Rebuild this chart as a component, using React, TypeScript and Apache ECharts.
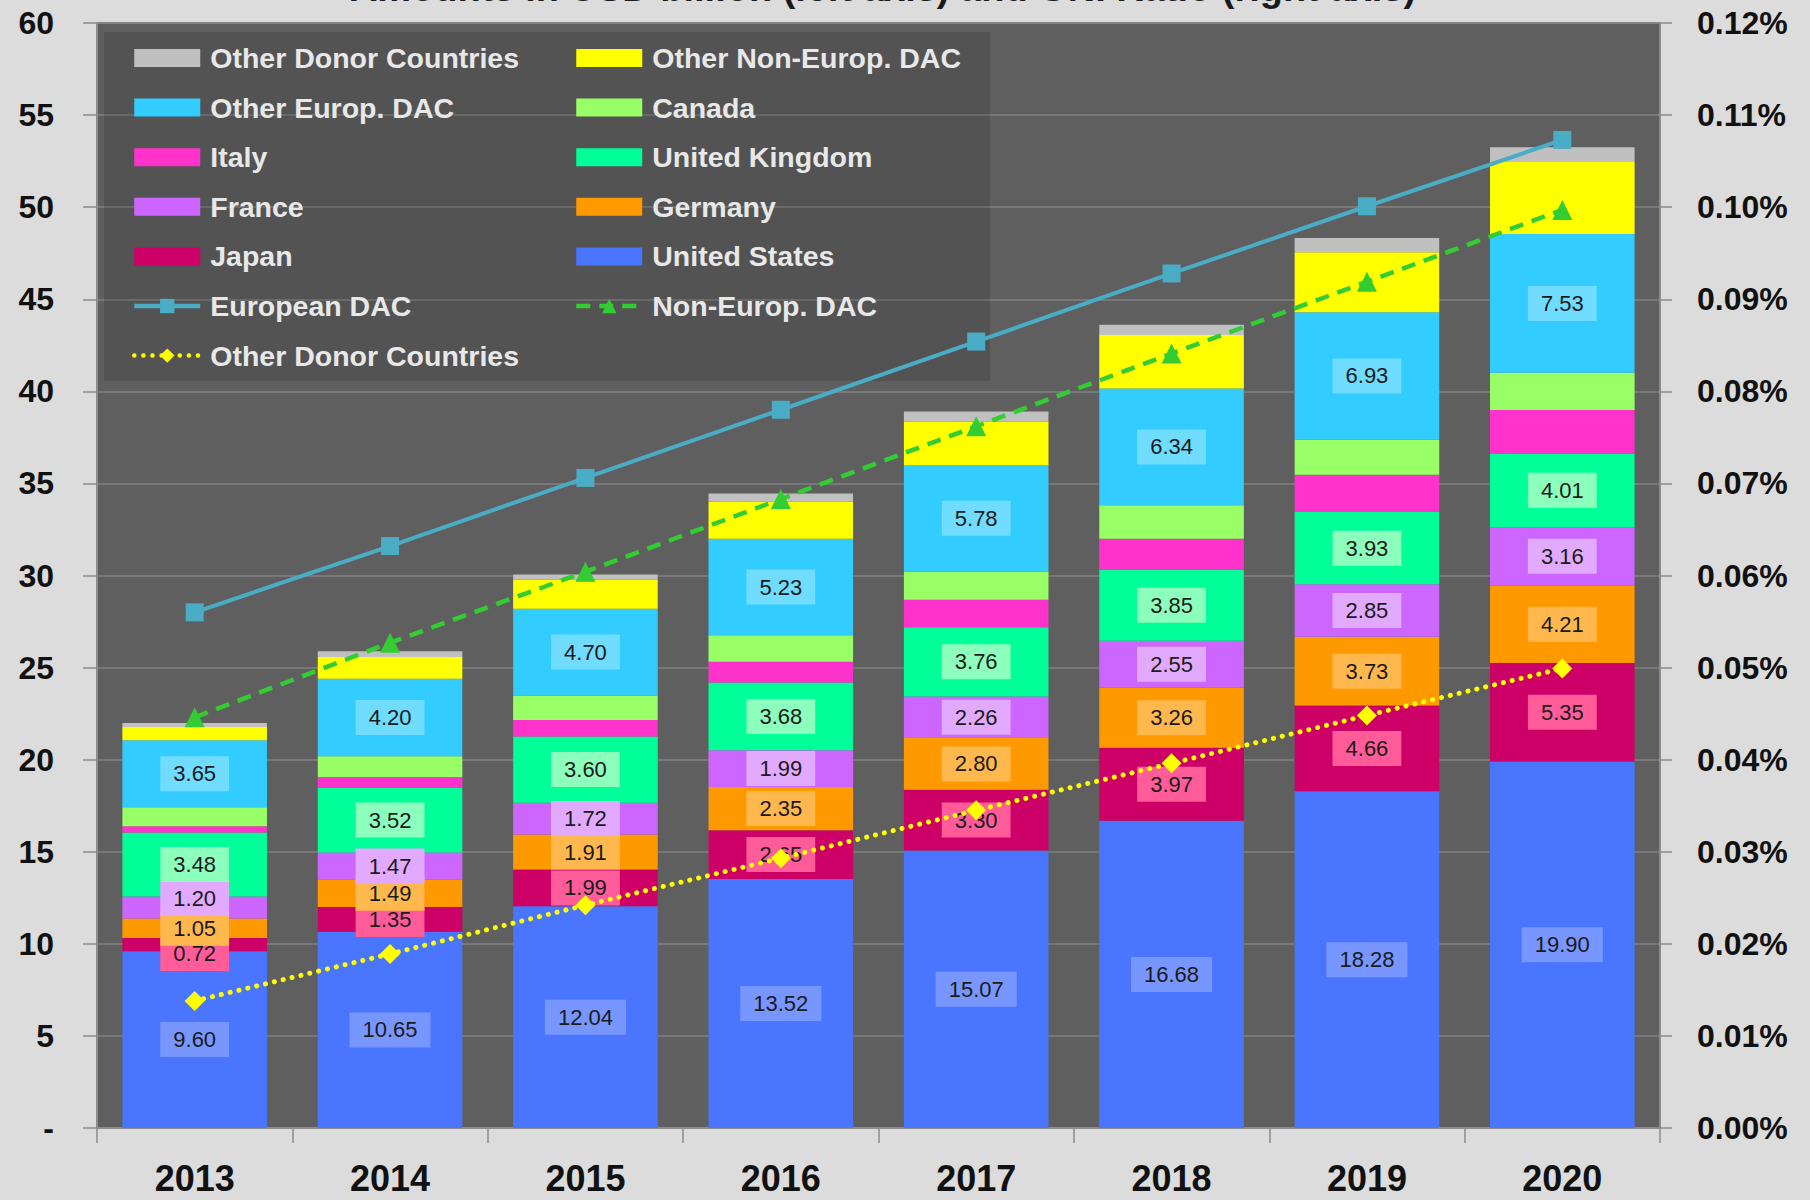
import React, { useEffect, useRef } from "react";
import * as echarts from "echarts";

const years = ["2013", "2014", "2015", "2016", "2017", "2018", "2019", "2020"];

const unitedStates = [9.6, 10.65, 12.04, 13.52, 15.07, 16.68, 18.28, 19.9];
const japan = [0.72, 1.35, 1.99, 2.65, 3.3, 3.97, 4.66, 5.35];
const germany = [1.05, 1.49, 1.91, 2.35, 2.8, 3.26, 3.73, 4.21];
const france = [1.2, 1.47, 1.72, 1.99, 2.26, 2.55, 2.85, 3.16];
const unitedKingdom = [3.48, 3.52, 3.6, 3.68, 3.76, 3.85, 3.93, 4.01];
const italy = [0.33, 0.58, 0.89, 1.12, 1.49, 1.69, 2.02, 2.35];
const canada = [1.03, 1.13, 1.34, 1.45, 1.54, 1.81, 1.9, 2.03];
const otherEuropDAC = [3.65, 4.2, 4.7, 5.23, 5.78, 6.34, 6.93, 7.53];
const otherNonEuropDAC = [0.72, 1.19, 1.59, 2.02, 2.36, 2.91, 3.25, 3.95];
const otherDonorCountries = [0.21, 0.31, 0.27, 0.44, 0.54, 0.55, 0.78, 0.76];

// GNI ratio, in percent
const europeanDACRatio = [0.056, 0.0632, 0.0706, 0.078, 0.0854, 0.0928, 0.1001, 0.1073];
const nonEuropDACRatio = [0.0446, 0.0527, 0.0604, 0.0683, 0.0762, 0.0841, 0.0919, 0.0997];
const otherDonorRatio = [0.0138, 0.0189, 0.0242, 0.0293, 0.0345, 0.0396, 0.0448, 0.0499];

const leftTicks = { min: 0, max: 60, interval: 5 };
const rightTicks = { min: 0, max: 0.12, interval: 0.01 };

const LINE_SUFFIX = " (GNI)";

const legendCol1Bars = ["Other Donor Countries", "Other Europ. DAC", "Italy", "France", "Japan"];
const legendCol1Lines = ["European DAC", "Other Donor Countries" + LINE_SUFFIX];
const legendCol2Bars = ["Other Non-Europ. DAC", "Canada", "United Kingdom", "Germany", "United States"];
const legendCol2Lines = ["Non-Europ. DAC"];

// label nudges (pixels) for crowded small segments, by series name and year index
const labelNudges: Record<string, Record<number, number>> = {
  France: { 0: -9 },
  Japan: { 0: 9 },
};

const barDefs = [
  { name: "United States", data: unitedStates, color: "#4a76ff", labelBg: "#7896ff", label: true },
  { name: "Japan", data: japan, color: "#cc0066", labelBg: "#ff5c99", label: true },
  { name: "Germany", data: germany, color: "#ff9900", labelBg: "#ffb84d", label: true },
  { name: "France", data: france, color: "#cc66ff", labelBg: "#e2aaff", label: true },
  { name: "United Kingdom", data: unitedKingdom, color: "#00ff99", labelBg: "#8cffbc", label: true },
  { name: "Italy", data: italy, color: "#ff33cc", labelBg: "", label: false },
  { name: "Canada", data: canada, color: "#99ff66", labelBg: "", label: false },
  { name: "Other Europ. DAC", data: otherEuropDAC, color: "#33ccff", labelBg: "#70dcff", label: true },
  { name: "Other Non-Europ. DAC", data: otherNonEuropDAC, color: "#ffff00", labelBg: "", label: false },
  { name: "Other Donor Countries", data: otherDonorCountries, color: "#c0c0c0", labelBg: "", label: false },
];

const FONT = "'Liberation Sans', Arial, sans-serif";

export default function App() {
  const ref = useRef<HTMLDivElement>(null);

  useEffect(() => {
    document.body.style.margin = "0";
    document.body.style.background = "#dcdcdc";
    if (!ref.current) return;
    const chart = echarts.init(ref.current, undefined, { renderer: "svg" });

    const barSeries = barDefs.map((d) => ({
      name: d.name,
      type: "bar",
      stack: "total",
      barWidth: "74%",
      data: d.data.map((v, i) => {
        const nudge = labelNudges[d.name] && labelNudges[d.name][i];
        return nudge ? { value: v, label: { offset: [0, nudge] } } : v;
      }),
      itemStyle: { color: d.color },
      label: d.label
        ? {
            show: true,
            position: "inside",
            formatter: (p: any) => Number(p.value).toFixed(2),
            color: "#1a1a1a",
            fontFamily: FONT,
            fontSize: 22,
            backgroundColor: d.labelBg,
            padding: [7, 13, 6, 13],
          }
        : { show: false },
    }));

    const lineSeries = [
      {
        name: "European DAC",
        type: "line",
        yAxisIndex: 1,
        data: europeanDACRatio,
        symbol: "rect",
        symbolSize: 18,
        itemStyle: { color: "#4bacc6" },
        lineStyle: { color: "#4bacc6", width: 4 },
        z: 5,
      },
      {
        name: "Non-Europ. DAC",
        type: "line",
        yAxisIndex: 1,
        data: nonEuropDACRatio,
        symbol: "triangle",
        symbolSize: 20,
        itemStyle: { color: "#33cc33" },
        lineStyle: { color: "#33cc33", width: 4.5, type: [14, 9] },
        z: 5,
      },
      {
        name: "Other Donor Countries" + LINE_SUFFIX,
        type: "line",
        yAxisIndex: 1,
        data: otherDonorRatio,
        symbol: "diamond",
        symbolSize: 20,
        itemStyle: { color: "#ffff00" },
        lineStyle: { color: "#ffff00", width: 5, type: [0.1, 9], cap: "round" },
        z: 5,
      },
    ];

    const legendText = {
      color: "#e8e8e8",
      fontFamily: FONT,
      fontWeight: "bold",
      fontSize: 28.5,
      lineHeight: 30,
      padding: [0, 0, 0, 5],
    };
    const legendCommon = {
      orient: "vertical",
      top: 38,
      itemWidth: 66,
      itemHeight: 18,
      itemGap: 19.6,
      textStyle: legendText,
      lineStyle: { width: 4.5 },
      formatter: (n: string) => n.replace(LINE_SUFFIX, ""),
      z: 6,
    };
    const legendData = (bars: string[], lines: string[]) => [
      ...bars.map((n) => ({ name: n, icon: "rect" })),
      ...lines.map((n) => ({ name: n })),
    ];

    chart.setOption({
      animation: false,
      backgroundColor: "#dcdcdc",
      grid: {
        left: 97,
        right: 150,
        top: 23,
        bottom: 72,
        show: true,
        backgroundColor: "#5f5f5f",
        borderColor: "#8c8c8c",
        borderWidth: 2,
      },
      legend: [
        { ...legendCommon, left: 127, data: legendData(legendCol1Bars, legendCol1Lines) },
        { ...legendCommon, left: 569, data: legendData(legendCol2Bars, legendCol2Lines) },
      ],
      graphic: [
        {
          type: "rect",
          z: 4,
          shape: { x: 104, y: 32, width: 886, height: 349 },
          style: { fill: "rgba(0,0,0,0.12)" },
          silent: true,
        },
        {
          type: "text",
          z: 10,
          x: 883,
          y: 7,
          style: {
            text: "Amounts in USD billion (left axis) and GNI Ratio (right axis)",
            fill: "#1a1a1a",
            font: "bold 38px 'Liberation Sans', Arial, sans-serif",
            align: "center",
            verticalAlign: "bottom",
          },
        },
      ],
      xAxis: {
        type: "category",
        data: years,
        boundaryGap: true,
        axisLine: { show: true, lineStyle: { color: "#8c8c8c", width: 2 } },
        axisTick: { show: true, length: 15, lineStyle: { color: "#8c8c8c", width: 1.5 } },
        axisLabel: {
          color: "#111",
          fontFamily: FONT,
          fontWeight: "bold",
          fontSize: 36,
          margin: 32,
        },
      },
      yAxis: [
        {
          type: "value",
          min: leftTicks.min,
          max: leftTicks.max,
          interval: leftTicks.interval,
          axisLine: { show: true, lineStyle: { color: "#8c8c8c", width: 2 } },
          axisTick: { show: true, length: 14, lineStyle: { color: "#8c8c8c", width: 1.5 } },
          splitLine: { show: true, lineStyle: { color: "#808080", width: 1.5 } },
          axisLabel: {
            color: "#111",
            fontFamily: FONT,
            fontWeight: "bold",
            fontSize: 32,
            margin: 43,
            formatter: (v: number) => (v === 0 ? "-" : String(v)),
          },
        },
        {
          type: "value",
          min: rightTicks.min,
          max: rightTicks.max,
          interval: rightTicks.interval,
          position: "right",
          axisLine: { show: true, lineStyle: { color: "#8c8c8c", width: 2 } },
          axisTick: { show: true, length: 12, lineStyle: { color: "#8c8c8c", width: 1.5 } },
          splitLine: { show: false },
          axisLabel: {
            color: "#111",
            fontFamily: FONT,
            fontWeight: "bold",
            fontSize: 32,
            margin: 37,
            formatter: (v: number) => v.toFixed(2) + "%",
          },
        },
      ],
      series: [...barSeries, ...lineSeries],
    });

    return () => chart.dispose();
  }, []);

  return <div ref={ref} style={{ width: 1810, height: 1200 }} />;
}
